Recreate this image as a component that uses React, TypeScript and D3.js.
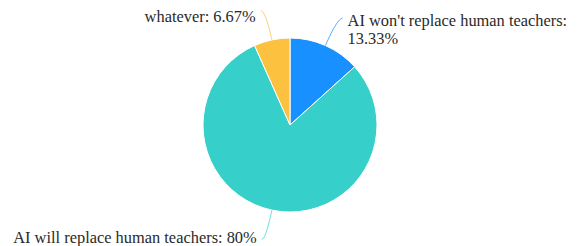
import React from "react";
import * as d3 from "d3";

const categories = [
  "AI won't replace human teachers",
  "AI will replace human teachers",
  "whatever",
];
const values = [13.33, 80, 6.67];
const valueLabels = ["13.33%", "80%", "6.67%"];
const colors = ["#1890ff", "#36cfc9", "#fbc13f"];

const W = 578;
const H = 246;
const CX = 290;
const CY = 125;
const R = 87;

export default function App() {
  const pie = d3
    .pie<number>()
    .sort(null)
    .value((d) => d)
    .startAngle(0)
    .endAngle(2 * Math.PI);
  const arcs = pie(values);
  const arc = d3.arc<d3.PieArcDatum<number>>().innerRadius(0).outerRadius(R);

  const pt = (a: number, r: number) => [Math.sin(a) * r, -Math.cos(a) * r];

  const layout = [
    { ext: 30, hook: 5, dy: [8, 26], split: true },
    { ext: 30, hook: -4, dy: [4], split: false },
    { ext: 30, hook: -5, dy: [11], split: false },
  ];

  return (
    <svg
      width={W}
      height={H}
      style={{ position: "absolute", left: 0, top: 0, background: "#fff" }}
      fontFamily="'Liberation Serif', 'Times New Roman', serif"
    >
      <g transform={`translate(${CX},${CY})`}>
        {arcs.map((a, i) => (
          <path
            key={i}
            d={arc(a) || ""}
            fill={colors[i]}
            stroke="#fff"
            strokeWidth={1}
          />
        ))}
        {arcs.map((a, i) => {
          const mid = (a.startAngle + a.endAngle) / 2;
          const L = layout[i];
          const p0 = pt(mid, R);
          const p1 = pt(mid, R + L.ext);
          const p2 = [p1[0] + L.hook, p1[1]];
          const right = L.hook > 0;
          const tx = p2[0] + (right ? 5 : -5);
          const anchor = right ? "start" : "end";
          const lines = L.split
            ? [categories[i] + ":", valueLabels[i]]
            : [categories[i] + ": " + valueLabels[i]];
          return (
            <g key={"l" + i}>
              <path
                d={`M${p0[0]},${p0[1]}Q${p1[0]},${p1[1]} ${p2[0]},${p2[1]}`}
                fill="none"
                stroke={colors[i]}
                strokeOpacity={0.7}
                strokeWidth={1}
              />
              {lines.map((t, j) => (
                <text
                  key={j}
                  x={tx}
                  y={p2[1] + L.dy[j]}
                  textAnchor={anchor}
                  fontSize={16.4}
                  fill="#2a2a2a"
                >
                  {t}
                </text>
              ))}
            </g>
          );
        })}
      </g>
    </svg>
  );
}
